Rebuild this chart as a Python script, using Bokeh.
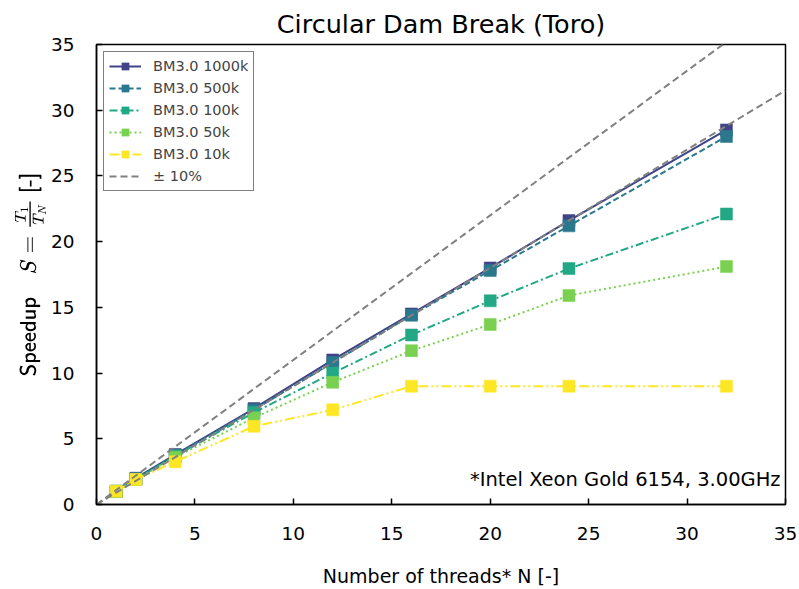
from bokeh.plotting import figure
from bokeh.models import Label, Legend, LegendItem, FixedTicker, Range1d
from bokeh.embed import file_html
from bokeh.resources import INLINE

threads = [1, 2, 4, 8, 12, 16, 20, 24, 32]
s_1000k = [1.0, 2.0, 3.8, 7.3, 11.0, 14.5, 18.0, 21.6, 28.5]
s_500k = [1.0, 1.95, 3.75, 7.2, 10.8, 14.4, 17.8, 21.2, 28.0]
s_100k = [1.0, 1.9, 3.7, 7.0, 10.0, 12.9, 15.5, 17.95, 22.1]
s_50k = [1.0, 1.9, 3.6, 6.6, 9.3, 11.7, 13.7, 15.9, 18.1]
s_10k = [1.0, 1.9, 3.25, 5.95, 7.2, 9.0, 9.0, 9.0, 9.0]
series_labels = ["BM3.0 1000k", "BM3.0 500k", "BM3.0 100k", "BM3.0 50k", "BM3.0 10k"]
series_colors = ["#414487", "#2a788e", "#22a884", "#7ad151", "#fde725"]
series_dashes = ["solid", "6 3", "8 3 2 3", "2 3", "10 3 2 3 2 3"]
band_x = [0, 35]
band_upper = [0, 38.5]
band_lower = [0, 31.5]
ticks = [0, 5, 10, 15, 20, 25, 30, 35]

FONT = "DejaVu Sans"

p = figure(width=799, height=589, output_backend="svg", toolbar_location=None,
           x_range=Range1d(0, 35), y_range=Range1d(0, 35),
           title="Circular Dam Break (Toro)")
p.min_border_left = 96
p.min_border_right = 14
p.min_border_top = 44
p.min_border_bottom = 84
p.title.align = "center"
p.title.text_font = FONT
p.title.text_font_size = "25.5px"
p.title.text_font_style = "normal"
p.title.text_color = "black"
p.title.standoff = 12
p.outline_line_color = "black"
p.outline_line_width = 1.5
p.grid.visible = False

for ax in (p.xaxis[0], p.yaxis[0]):
    ax.ticker = FixedTicker(ticks=ticks)
    ax.major_tick_in = 6
    ax.major_tick_out = 0
    ax.minor_tick_in = 0
    ax.minor_tick_out = 0
    ax.major_tick_line_width = 1.5
    ax.axis_line_width = 1.5
    ax.axis_line_color = "black"
    ax.major_label_text_font = FONT
    ax.major_label_text_font_size = "18.5px"
    ax.major_label_text_color = "black"
    ax.axis_label_text_font = FONT
    ax.axis_label_text_font_size = "19px"
    ax.axis_label_text_font_style = "normal"
    ax.axis_label_text_color = "black"
    ax.major_label_standoff = 22

p.xaxis.axis_label = "Number of threads* N [-]"
p.xaxis.axis_label_standoff = 22
p.yaxis.axis_label = r"$$\textsf{Speedup}\quad S = \tfrac{T_1}{T_N}\ \textsf{[-]}$$"
p.yaxis.axis_label_text_font_size = "17.5px"
p.yaxis.axis_label_standoff = 2

items = []
for ys, lab, col, dash in zip([s_1000k, s_500k, s_100k, s_50k, s_10k],
                              series_labels, series_colors, series_dashes):
    r1 = p.line(threads, ys, line_color=col, line_width=2, line_dash=dash)
    r2 = p.scatter(threads, ys, marker="square", size=12, fill_color=col,
                   line_color=col, line_alpha=0.5, line_width=1)
    items.append(LegendItem(label=lab, renderers=[r1, r2]))

ru = p.line(band_x, band_upper, line_color="#808080", line_width=2, line_dash="7 4")
rl = p.line(band_x, band_lower, line_color="#808080", line_width=2, line_dash="7 4")
items.append(LegendItem(label="± 10%", renderers=[ru]))

legend = Legend(items=items, location="top_left")
legend.margin = 7
legend.padding = 5
legend.spacing = 4
legend.glyph_height = 18
legend.label_height = 18
legend.glyph_width = 32
legend.label_standoff = 12
legend.label_text_font = FONT
legend.label_text_font_size = "14.5px"
legend.border_line_color = "black"
legend.border_line_width = 1.5
legend.background_fill_alpha = 1
p.add_layout(legend)

note = Label(x=34.75, y=1.9, text="*Intel Xeon Gold 6154, 3.00GHz",
             text_align="right", text_baseline="middle",
             text_font=FONT, text_font_size="19.5px", text_color="black")
p.add_layout(note)

open("out.html", "w").write(file_html(p, INLINE))
